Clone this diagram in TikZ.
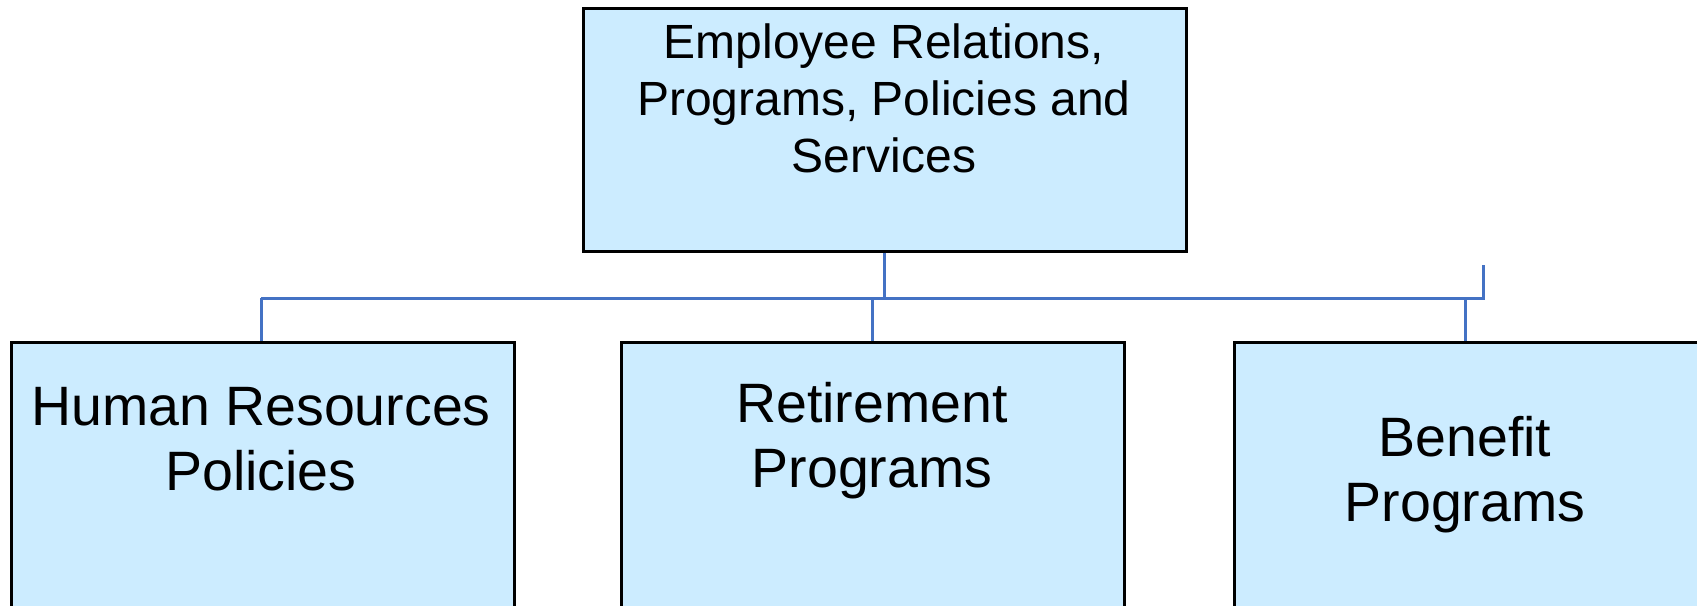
\documentclass[tikz,border=0pt]{standalone}
\usepackage{fontspec}
\setmainfont{Liberation Sans}
\definecolor{boxfill}{HTML}{CCECFF}
\definecolor{linkblue}{HTML}{4472C4}
\begin{document}
\begin{tikzpicture}[x=1pt,y=-1pt,
  box/.style={draw=black,line width=2.6pt,fill=boxfill,inner sep=0pt},
  link/.style={draw=linkblue,line width=3pt},
  toptext/.style={align=center,font=\fontsize{48}{57}\selectfont,inner sep=0pt},
  subtext/.style={align=center,font=\fontsize{55.5}{65}\selectfont,inner sep=0pt}]
\useasboundingbox (0,0) rectangle (1697,605);
\clip (0,0) rectangle (1697,605);
% boxes
\node[box,anchor=north west,minimum width=603pt,minimum height=243pt] (top) at (582,7) {};
\node[box,anchor=north west,minimum width=503pt,minimum height=300pt] (hr) at (10,341) {};
\node[box,anchor=north west,minimum width=503pt,minimum height=300pt] (ret) at (620,341) {};
\node[box,anchor=north west,minimum width=503pt,minimum height=300pt] (ben) at (1233,341) {};
% texts
\node[toptext] (toplbl) at (884,98) {Employee Relations,\\Programs, Policies and\\Services};
\node[subtext] (hrlbl) at (261,439) {Human Resources\\Policies};
\node[subtext] (retlbl) at (872,441) {Retirement\\Programs};
\node[subtext] (benlbl) at (1465,475) {Benefit\\Programs};
% connectors
\coordinate (join) at (884,298);
\coordinate (barL) at (261,298);
\coordinate (barR) at (1483,298);
\coordinate (stub) at (1483,265);
\coordinate (retJ) at (872,298);
\coordinate (benJ) at (1465,298);
\draw[link] (top.south -| join) -- (join);
\draw[link] (barL) -- (barR) -- (stub);
\draw[link] (barL) -- (barL |- hr.north);
\draw[link] (retJ) -- (retJ |- ret.north);
\draw[link] (benJ) -- (benJ |- ben.north);
\end{tikzpicture}
\end{document}
